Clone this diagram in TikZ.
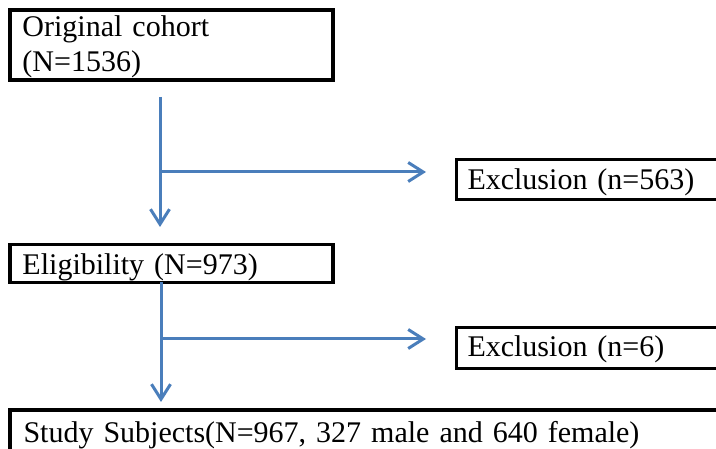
\documentclass[tikz,border=0pt]{standalone}
\usepackage{fontspec}
\setmainfont{Liberation Serif}
\usetikzlibrary{arrows.meta}
\definecolor{flowblue}{RGB}{74,126,187}
\tikzset{
  box/.style={draw=black, line width=3.2pt, outer sep=0pt, inner ysep=0pt,
    anchor=north west, align=left, font=\fontsize{30}{35}\selectfont},
  flow/.style={draw=flowblue, line width=3pt,
    -{Straight Barb[length=15pt,width=19pt]}},
}
\begin{document}
\begin{tikzpicture}[x=1pt,y=-1pt]
\useasboundingbox (0,0) rectangle (716,449);
\clip (0,0) rectangle (716,449);
\fill[white] (0,0) rectangle (716,449);
% boxes
\node[box, inner xsep=12.5pt, text width=298pt, text height=62pt, text depth=8pt]
  (orig) at (10,10) {\begin{tabular}[b]{@{}l@{}}Original cohort\\(N=1536)\end{tabular}};
\node[box, inner xsep=12.5pt, text width=298pt, text height=30.7pt, text depth=7.3pt]
  (elig) at (10,244.3) {Eligibility (N=973)};
\node[box, inner xsep=11pt, text width=300pt, text height=30.5pt, text depth=9.5pt]
  (exc1) at (456.5,159.5) {Exclusion (n=563)};
\node[box, inner xsep=11pt, text width=300pt, text height=29.3pt, text depth=11.5pt]
  (exc2) at (456.5,327.5) {Exclusion (n=6)};
\node[box, inner xsep=13.5pt, text width=760pt, text height=33pt, text depth=40pt]
  (study) at (10,410) {Study Subjects(N=967, 327 male and 640 female)};
% junctions
\coordinate (j1) at (160,172);
\coordinate (j2) at (161,339);
% connectors
\draw[flow, shorten <=17pt, shorten >=17.3pt] (orig.south -| j1) -- (elig.north -| j1);
\draw[flow, shorten >=30.5pt] (j1) -- (exc1.west |- j1);
\draw[flow, shorten >=8pt] (elig.south -| j2) -- (study.north -| j2);
\draw[flow, shorten >=30.5pt] (j2) -- (exc2.west |- j2);
\end{tikzpicture}
\end{document}
